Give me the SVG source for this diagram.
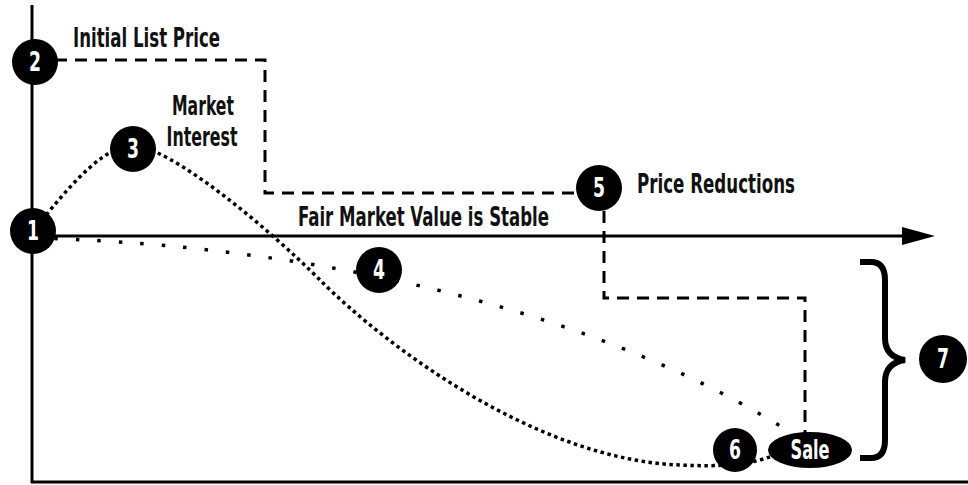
<svg xmlns="http://www.w3.org/2000/svg" width="968" height="485" viewBox="0 0 968 485">
<style>
text{font-family:"Liberation Sans Narrow","DejaVu Sans Condensed","Liberation Sans",sans-serif;font-weight:bold;fill:#111}
.num{fill:#fff;font-size:26px;text-anchor:middle}
.lbl{font-size:26px}
.node{fill:#000}
.axis{stroke:#000;stroke-width:3;fill:none}
.dash{stroke:#000;stroke-width:3;fill:none;stroke-dasharray:12 8}
.dense{stroke:#000;stroke-width:3.5;fill:none;stroke-dasharray:3.5 3.5}
.sparse{stroke:#000;stroke-width:3.5;fill:none;stroke-dasharray:3.5 18}
</style>
<rect width="968" height="485" fill="#fff"/>
<g id="axes">
<line class="axis" x1="32" y1="5" x2="32" y2="483"/>
<line class="axis" x1="31" y1="482" x2="968" y2="482"/>
<line class="axis" x1="33" y1="236" x2="906" y2="236"/>
<polygon points="902,227 935,236 902,245" fill="#000"/>
</g>
<g id="connectors">
<path class="dash" d="M35,60 H265 V193 H604 V298 H805 V433"/>
<path class="dense" d="M33,231 C55,205 95,150 130,145 C170,145 270,230 320,280 C390,350 540,460 680,465 C720,467 750,465 775,455"/>
<path class="sparse" d="M33,238 C250,243 560,288 790,432"/>
<path d="M860,262 H871 Q885,262 885,280 V338 Q885,357 905,360 Q885,363 885,382 V440 Q885,458 871,458 H860" fill="none" stroke="#000" stroke-width="6"/>
</g>
<g id="labels">
<text class="lbl" x="73" y="47" textLength="147" lengthAdjust="spacingAndGlyphs">Initial List Price</text>
<text class="lbl" x="203" y="115" text-anchor="middle" textLength="62" lengthAdjust="spacingAndGlyphs">Market</text>
<text class="lbl" x="202" y="146" text-anchor="middle" textLength="71" lengthAdjust="spacingAndGlyphs">Interest</text>
<text class="lbl" x="298" y="226" textLength="251" lengthAdjust="spacingAndGlyphs">Fair Market Value is Stable</text>
<text class="lbl" x="637" y="193" textLength="158" lengthAdjust="spacingAndGlyphs">Price Reductions</text>
</g>
<g id="node1"><circle class="node" cx="33" cy="231" r="23"/><text class="num" x="33" y="240" textLength="12" lengthAdjust="spacingAndGlyphs">1</text></g>
<g id="node2"><circle class="node" cx="35" cy="62" r="23"/><text class="num" x="35" y="71" textLength="12" lengthAdjust="spacingAndGlyphs">2</text></g>
<g id="node3"><circle class="node" cx="133" cy="149" r="23"/><text class="num" x="133" y="158" textLength="12" lengthAdjust="spacingAndGlyphs">3</text></g>
<g id="node4"><circle class="node" cx="379" cy="270" r="23"/><text class="num" x="379" y="279" textLength="12" lengthAdjust="spacingAndGlyphs">4</text></g>
<g id="node5"><circle class="node" cx="599" cy="188" r="23"/><text class="num" x="599" y="197" textLength="12" lengthAdjust="spacingAndGlyphs">5</text></g>
<g id="node6"><circle class="node" cx="735" cy="450" r="22"/><text class="num" x="735" y="459" textLength="12" lengthAdjust="spacingAndGlyphs">6</text></g>
<g id="sale"><ellipse class="node" cx="810" cy="450" rx="42" ry="18"/><text class="num" x="810" y="459" textLength="39" lengthAdjust="spacingAndGlyphs">Sale</text></g>
<g id="node7"><circle class="node" cx="943" cy="359" r="24"/><text class="num" x="943" y="368" textLength="12" lengthAdjust="spacingAndGlyphs">7</text></g>
</svg>
